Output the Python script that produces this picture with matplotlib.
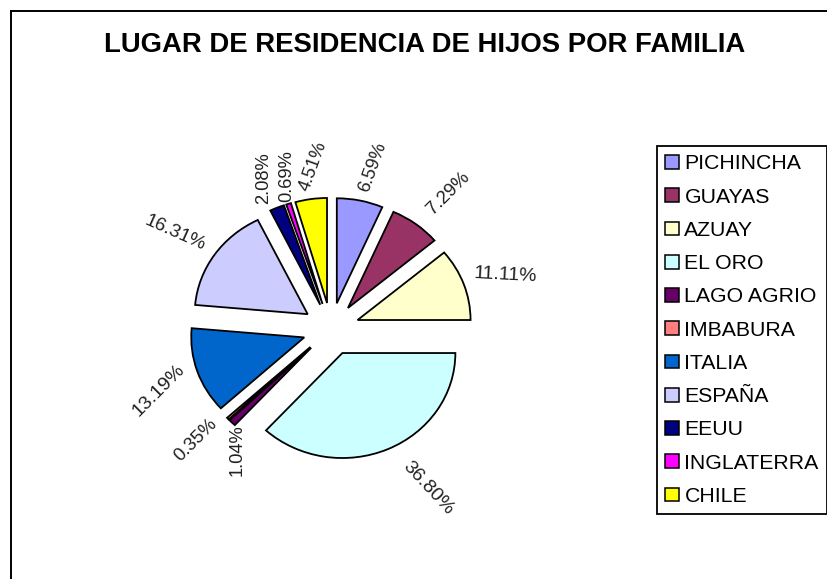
import matplotlib
matplotlib.use("Agg")
import matplotlib.pyplot as plt
from matplotlib.lines import Line2D
from matplotlib.patches import Patch

plt.rcParams['font.family'] = ['Liberation Sans', 'DejaVu Sans']

categories = ["PICHINCHA", "GUAYAS", "AZUAY", "EL ORO", "LAGO AGRIO", "IMBABURA",
              "ITALIA", "ESPAÑA", "EEUU", "INGLATERRA", "CHILE"]
values = [6.59, 7.29, 11.11, 36.80, 1.04, 0.35, 13.19, 16.31, 2.08, 0.69, 4.51]
colors = ["#9999FF", "#993366", "#FFFFCC", "#CCFFFF", "#660066", "#FF8080",
          "#0066CC", "#CCCCFF", "#000080", "#FF00FF", "#FFFF00"]
title = "LUGAR DE RESIDENCIA DE HIJOS POR FAMILIA"

# label layout (pixel centres, rotation, size)
label_x = [373, 448, 505, 428, 237, 196, 159, 175, 264, 287, 313]
label_y = [167, 193, 275, 488, 450, 440, 390, 233, 178, 176, 166]
label_rot = [70, 45, -3, -47, 90, 45, 45, -24, 90, 90, 70]
label_size = [13.2, 13.4, 14, 14, 13.2, 13.4, 14, 13.8, 13.2, 13.2, 13.2]

W, H = 828, 579
fig = plt.figure(figsize=(W / 100, H / 100), dpi=100, facecolor="white")

def fx(x):
    return x / W

def fy(y):
    return 1 - y / H

# pie axes: ellipse with centre (331, 329), radii 113 x 105 px
cx, cy, half = 331, 329, 190
rx, ry = 113, 105
ax = fig.add_axes([fx(cx - half), fy(cy + half), 2 * half / W, 2 * half / H])
ax.pie(values, colors=colors, startangle=90, counterclock=False,
       explode=[0.25] * len(values), radius=1,
       wedgeprops=dict(edgecolor="black", linewidth=1.3))
ax.set_aspect("auto")
ax.set_xlim(-half / rx, half / rx)
ax.set_ylim(-half / ry, half / ry)

# outer chart frame
for xs, ys in (([11, 11], [579, 11]), ([11, 828], [11, 11])):
    fig.add_artist(Line2D([fx(x) for x in xs], [fy(y) for y in ys],
                          transform=fig.transFigure, color="black", linewidth=1.4))

fig.text(fx(424.5), fy(45.5), title, ha="center", va="center",
         fontsize=19.85, fontweight="bold", color="black")

for v, x, y, r, s in zip(values, label_x, label_y, label_rot, label_size):
    fig.text(fx(x), fy(y), f"{v:.2f}%", ha="center", va="center", rotation=r,
             rotation_mode="anchor", fontsize=s, color="#222222")

handles = [Patch(facecolor=c, edgecolor="black", linewidth=1.1) for c in colors]
leg = fig.legend(handles, categories, loc="upper left",
                 bbox_to_anchor=(fx(657), fy(146)), bbox_transform=fig.transFigure,
                 fontsize=15.3, frameon=True, fancybox=False, edgecolor="black",
                 framealpha=1, handlelength=0.62, handleheight=0.62, handletextpad=0.27,
                 labelspacing=0.67, borderpad=0.4, borderaxespad=0)
leg.get_frame().set_linewidth(1.3)

fig.savefig("out.png", dpi=100, facecolor="white")
